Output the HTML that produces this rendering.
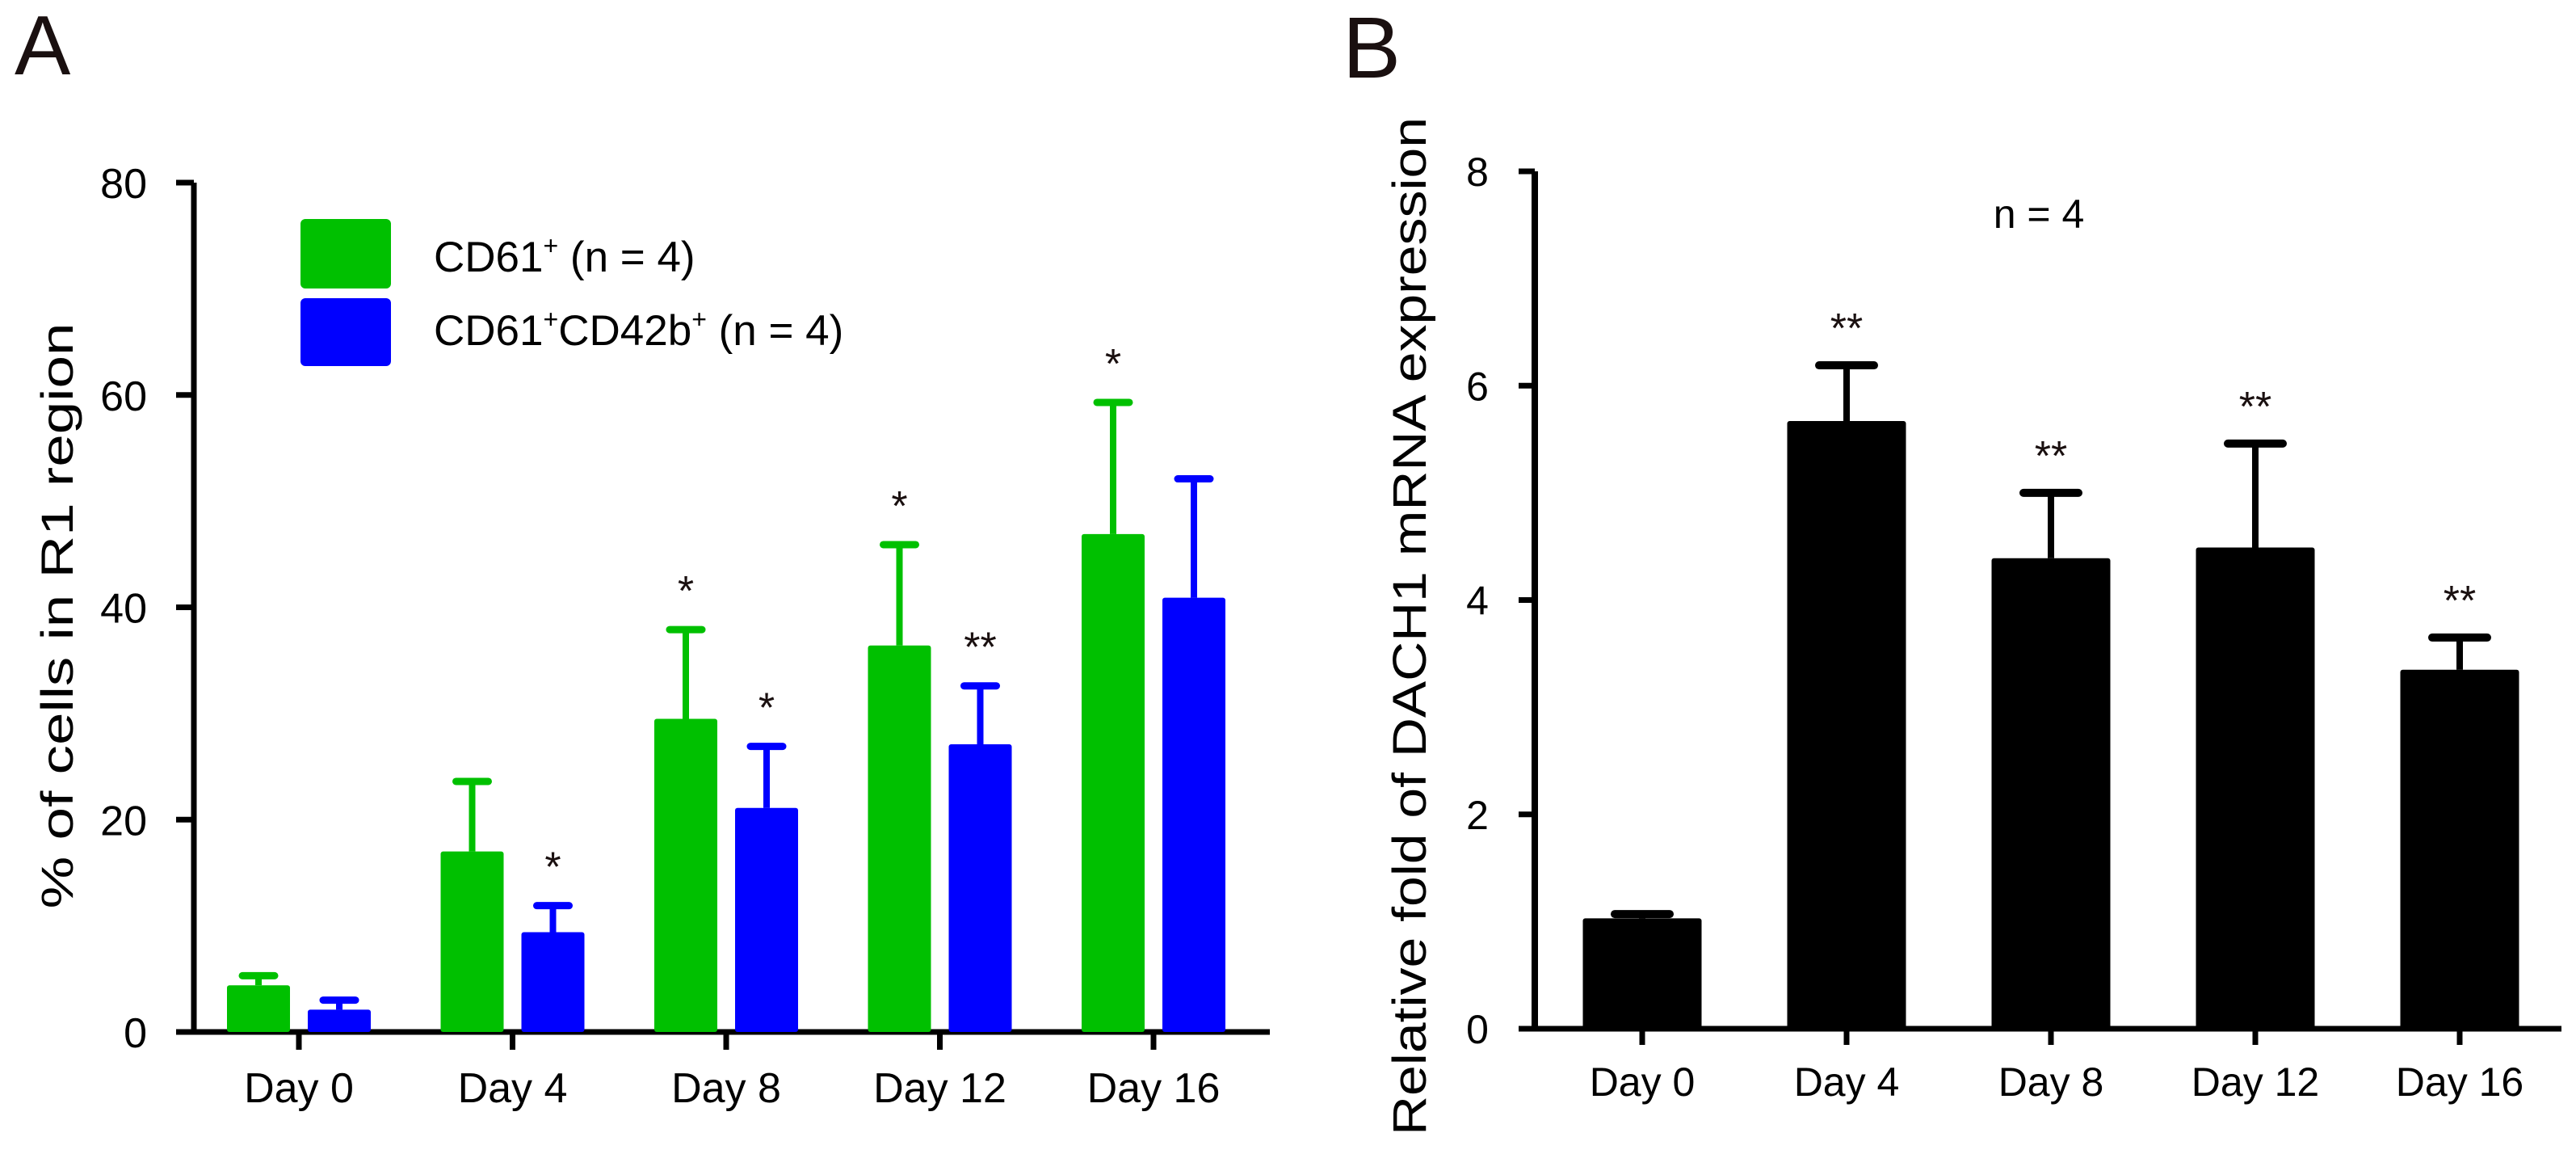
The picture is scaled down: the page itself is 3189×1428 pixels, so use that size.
<!DOCTYPE html>
<html><head><meta charset="utf-8"><style>
html,body{margin:0;padding:0;background:#fff;}
svg{display:block;font-family:"Liberation Sans",Arial,sans-serif;}
</style></head><body>
<svg id="fig" width="3189" height="1428" viewBox="0 0 3189 1428" xmlns="http://www.w3.org/2000/svg">
<text x="18" y="92" font-size="104" fill="#1a1010">A</text>
<text x="1662" y="96" font-size="108" fill="#1a1010">B</text>
<g id="A"></g>
<g id="B"></g>
</svg>
<script>
const daysA = ["Day 0","Day 4","Day 8","Day 12","Day 16"];
const cd61 = [4.4, 17.0, 29.5, 36.4, 46.9];
const cd61Err = [5.3, 23.6, 37.9, 45.9, 59.3];
const cd42 = [2.1, 9.4, 21.1, 27.1, 40.9];
const cd42Err = [3.0, 11.9, 26.9, 32.6, 52.1];
const cd61Stars = ["", "", "*", "*", "*"];
const cd42Stars = ["", "*", "*", "**", ""];
const ticksA = [0, 20, 40, 60, 80];

const daysB = ["Day 0","Day 4","Day 8","Day 12","Day 16"];
const dach1 = [1.03, 5.67, 4.39, 4.49, 3.35];
const dach1Err = [1.07, 6.19, 5.0, 5.46, 3.65];
const dach1Stars = ["", "**", "**", "**", "**"];
const ticksB = [0, 2, 4, 6, 8];

const NS = "http://www.w3.org/2000/svg";
function mk(parent, tag, attrs, text) {
  const e = document.createElementNS(NS, tag);
  for (const k in attrs) e.setAttribute(k, attrs[k]);
  if (text !== undefined) e.textContent = text;
  parent.appendChild(e);
  return e;
}

// Panel A
(function(){
  const g = document.getElementById("A");
  const x0 = 240, xEnd = 1572, y0 = 1277, pxPer = (1277 - 226) / 80;
  const y = v => y0 - v * pxPer;
  const cx = i => 370 + i * 264.5;
  const bw = 78, gap = 22;
  let e;
  e = mk(g, "line", {x1:x0, y1:y(80), x2:x0, y2:y0+3, stroke:"#000", "stroke-width":7});
  
  
  e = mk(g, "line", {x1:218, y1:y0, x2:xEnd, y2:y0, stroke:"#000", "stroke-width":7});
  
  
  ticksA.forEach(t => {
    e = mk(g, "line", {x1:218, y1:y(t), x2:x0, y2:y(t), stroke:"#000", "stroke-width":7});
    
    
    e = mk(g, "text", {x:182, y:y(t)+19, "font-size":52, "text-anchor":"end"}, String(t));
    
    
  });
  daysA.forEach((d, i) => {
    const c = cx(i);
    e = mk(g, "line", {x1:c, y1:y0, x2:c, y2:y0+22, stroke:"#000", "stroke-width":7});
    
    
    e = mk(g, "text", {x:c, y:1364, "font-size":52, "text-anchor":"middle"}, d);
    
    
    const series = [
      {v:cd61[i], er:cd61Err[i], s:cd61Stars[i], col:"#00c000", bx:c - gap/2 - bw, nm:'cd61'},
      {v:cd42[i], er:cd42Err[i], s:cd42Stars[i], col:"#0000ff", bx:c + gap/2, nm:'cd61-cd42b'}
    ];
    series.forEach(o => {
      const m = o.bx + bw/2;
      e = mk(g, "line", {x1:m, y1:y(o.v), x2:m, y2:y(o.er), stroke:o.col, "stroke-width":8});
      
      
      e = mk(g, "line", {x1:m-20, y1:y(o.er), x2:m+20, y2:y(o.er), stroke:o.col, "stroke-width":9, "stroke-linecap":"round"});
      
      
      e = mk(g, "rect", {x:o.bx, y:y(o.v), width:bw, height:y0 - y(o.v), fill:o.col, rx:3});
      
      
      if (o.s) {
        e = mk(g, "text", {x:m, y:y(o.er) - 30, "font-size":52, "text-anchor":"middle", fill:"#1a1010"}, o.s);
        
        
      }
    });
  });
  e = mk(g, "text", {x:0, y:0, "font-size":56, "text-anchor":"middle", transform:"translate(90,762) rotate(-90)", textLength:725, lengthAdjust:"spacingAndGlyphs"}, "% of cells in R1 region");
  
  
  // legend
  e = mk(g, "rect", {x:372, y:271, width:112, height:86, rx:6, fill:"#00c000"});
  
  
  e = mk(g, "rect", {x:372, y:369, width:112, height:84, rx:6, fill:"#0000ff"});
  
  
  e = mk(g, "text", {x:537, y:336, "font-size":53});
  
  
  e.innerHTML = 'CD61<tspan font-size="32" dy="-21">+</tspan><tspan dy="21"> (n = 4)</tspan>';
  e = mk(g, "text", {x:537, y:427, "font-size":53});
  
  
  e.innerHTML = 'CD61<tspan font-size="32" dy="-21">+</tspan><tspan dy="21">CD42b</tspan><tspan font-size="32" dy="-21">+</tspan><tspan dy="21"> (n = 4)</tspan>';
})();

// Panel B
(function(){
  const g = document.getElementById("B");
  const x0 = 1900, y0 = 1273, pxPer = (1273 - 212) / 8;
  const y = v => y0 - v * pxPer;
  const cx = i => 2033 + i * 253;
  const bw = 147;
  let e;
  e = mk(g, "line", {x1:x0, y1:y(8), x2:x0, y2:y0+3, stroke:"#000", "stroke-width":8});
  
  
  e = mk(g, "line", {x1:1880, y1:y0, x2:3171, y2:y0, stroke:"#000", "stroke-width":7});
  
  
  ticksB.forEach(t => {
    e = mk(g, "line", {x1:1880, y1:y(t), x2:x0, y2:y(t), stroke:"#000", "stroke-width":7});
    
    
    e = mk(g, "text", {x:1829, y:y(t)+18, "font-size":50, "text-anchor":"middle"}, String(t));
    
    
  });
  daysB.forEach((d, i) => {
    const c = cx(i);
    e = mk(g, "line", {x1:c, y1:y0, x2:c, y2:y0+20, stroke:"#000", "stroke-width":7});
    
    
    e = mk(g, "text", {x:c, y:1356, "font-size":50, "text-anchor":"middle"}, d);
    
    
    e = mk(g, "line", {x1:c, y1:y(dach1[i]), x2:c, y2:y(dach1Err[i]), stroke:"#000", "stroke-width":8});
    
    
    e = mk(g, "line", {x1:c-34, y1:y(dach1Err[i]), x2:c+34, y2:y(dach1Err[i]), stroke:"#000", "stroke-width":10, "stroke-linecap":"round"});
    
    
    e = mk(g, "rect", {x:c - bw/2, y:y(dach1[i]), width:bw, height:y0 - y(dach1[i]), fill:"#000", rx:3});
    
    
    if (dach1Stars[i]) {
      e = mk(g, "text", {x:c, y:y(dach1Err[i]) - 28, "font-size":52, "text-anchor":"middle", fill:"#1a1010"}, dach1Stars[i]);
      
      
    }
  });
  e = mk(g, "text", {x:2524, y:282, "font-size":50, "text-anchor":"middle"}, "n = 4");
  
  
  e = mk(g, "text", {x:0, y:0, "font-size":58, "text-anchor":"middle", transform:"translate(1765,775) rotate(-90)", textLength:1260, lengthAdjust:"spacingAndGlyphs"}, "Relative fold of DACH1 mRNA expression");
  
  
})();
</script>
</body></html>
